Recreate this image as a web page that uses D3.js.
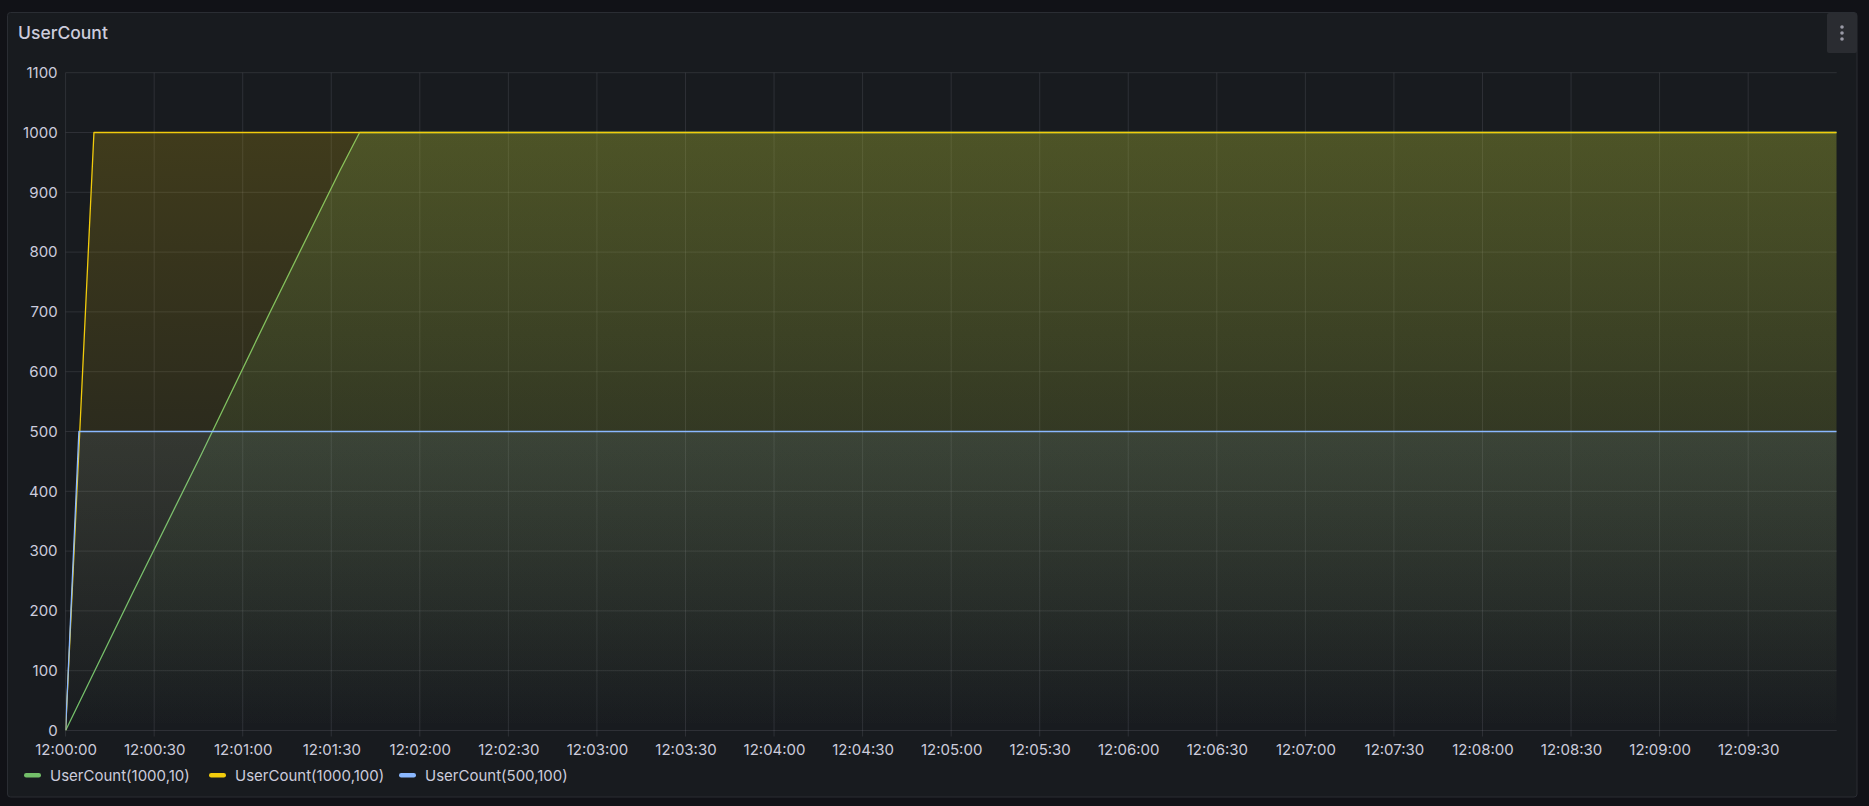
<!DOCTYPE html>
<html>
<head>
<meta charset="utf-8">
<script src="https://cdn.jsdelivr.net/npm/d3@7"></script>
<style>
  html, body { margin: 0; padding: 0; background: #111217; }
  svg { display: block; }
  text { font-family: Inter, "Noto Sans", sans-serif; }
</style>
</head>
<body>
<svg id="chart" width="1869" height="806"></svg>
<script>
// ---- data ----
const title = "UserCount";
const seriesNames = ["UserCount(1000,10)", "UserCount(1000,100)", "UserCount(500,100)"];
const seriesColors = ["#73BF69", "#F2CC0C", "#8AB8FF"];
// time in seconds after 12:00:00
const greenTimes  = [0, 23, 46, 69, 93, 99.6, 600];
const greenValues = [0, 233, 462, 697, 937, 1000, 1000];
const yellowTimes  = [0, 9.6, 600];
const yellowValues = [0, 1000, 1000];
const blueTimes  = [0, 4.5, 600];
const blueValues = [0, 500, 500];
const yTicks = [0, 100, 200, 300, 400, 500, 600, 700, 800, 900, 1000, 1100];
const xTickSeconds = [0, 30, 60, 90, 120, 150, 180, 210, 240, 270, 300, 330, 360, 390, 420, 450, 480, 510, 540, 570];
const xTickLabels = ["12:00:00","12:00:30","12:01:00","12:01:30","12:02:00","12:02:30","12:03:00","12:03:30","12:04:00","12:04:30","12:05:00","12:05:30","12:06:00","12:06:30","12:07:00","12:07:30","12:08:00","12:08:30","12:09:00","12:09:30"];

const series = [
  { name: seriesNames[0], color: seriesColors[0], t: greenTimes, v: greenValues },
  { name: seriesNames[1], color: seriesColors[1], t: yellowTimes, v: yellowValues },
  { name: seriesNames[2], color: seriesColors[2], t: blueTimes, v: blueValues }
];

// ---- layout ----
const svg = d3.select("#chart");
const plot = { left: 65.6, right: 1836.7, top: 72.7, bottom: 730.5 };
const x = d3.scaleLinear().domain([0, 600]).range([plot.left, plot.right]);
const y = d3.scaleLinear().domain([0, 1100]).range([plot.bottom, plot.top]);

// panel
svg.append("rect").attr("x", 7.5).attr("y", 12.5).attr("width", 1849.5).attr("height", 784.5)
  .attr("rx", 3).attr("fill", "#181b1f").attr("stroke", "#2a2d33").attr("stroke-width", 1);

svg.append("text").attr("x", 18).attr("y", 39).attr("fill", "#ccccdc")
  .attr("font-size", 17.5).attr("font-weight", 500).text(title);

// menu button
svg.append("rect").attr("x", 1827).attr("y", 13).attr("width", 30).attr("height", 40).attr("rx", 2)
  .attr("fill", "#2a2c31");
[27, 33, 39].forEach(cy => svg.append("circle").attr("cx", 1842).attr("cy", cy).attr("r", 1.8).attr("fill", "#9a9aa6"));

// grid
const grid = svg.append("g");
grid.selectAll("line.h").data(yTicks).join("line")
  .attr("x1", plot.left).attr("x2", plot.right)
  .attr("y1", d => y(d)).attr("y2", d => y(d))
  .attr("stroke", "rgba(204,204,220,0.12)").attr("stroke-width", 1);
grid.selectAll("line.v").data(xTickSeconds).join("line")
  .attr("x1", d => x(d)).attr("x2", d => x(d))
  .attr("y1", plot.top).attr("y2", plot.bottom + 6)
  .attr("stroke", "rgba(204,204,220,0.12)").attr("stroke-width", 1);

// axes labels via d3 axes
const yAxis = d3.axisLeft(y).tickValues(yTicks).tickSize(0).tickPadding(8).tickFormat(d3.format("d"));
const gy = svg.append("g").attr("transform", `translate(${plot.left},0)`).call(yAxis);
gy.select(".domain").remove();
gy.selectAll("text").attr("fill", "#ccccdc").attr("font-size", 15).attr("font-family", "Inter, sans-serif");

const xAxis = d3.axisBottom(x).tickValues(xTickSeconds).tickSize(0).tickPadding(14)
  .tickFormat((d, i) => xTickLabels[i]);
const gx = svg.append("g").attr("transform", `translate(0,${plot.bottom})`).call(xAxis);
gx.select(".domain").remove();
gx.selectAll("text").attr("fill", "#ccccdc").attr("font-size", 15).attr("font-family", "Inter, sans-serif");

// gradients & series
const defs = svg.append("defs");
const clip = defs.append("clipPath").attr("id", "plotclip");
clip.append("rect").attr("x", plot.left).attr("y", plot.top - 2)
  .attr("width", plot.right - plot.left).attr("height", plot.bottom - plot.top + 2);

series.forEach((s, i) => {
  const g = defs.append("linearGradient").attr("id", "grad" + i)
    .attr("gradientUnits", "userSpaceOnUse")
    .attr("x1", 0).attr("x2", 0).attr("y1", plot.top).attr("y2", plot.bottom);
  g.append("stop").attr("offset", 0).attr("stop-color", s.color).attr("stop-opacity", 0.2);
  g.append("stop").attr("offset", 1).attr("stop-color", s.color).attr("stop-opacity", 0);
});

const layer = svg.append("g").attr("clip-path", "url(#plotclip)");
series.forEach((s, i) => {
  const pts = s.t.map((t, j) => [t, s.v[j]]);
  const area = d3.area().x(d => x(d[0])).y0(y(0)).y1(d => y(d[1]));
  const line = d3.line().x(d => x(d[0])).y(d => y(d[1]));
  layer.append("path").attr("d", area(pts)).attr("fill", `url(#grad${i})`);
  layer.append("path").attr("d", line(pts)).attr("fill", "none")
    .attr("stroke", s.color).attr("stroke-width", 1.3).attr("stroke-linejoin", "round");
});

// legend
const legendX = [24, 209, 399];
const lg = svg.append("g");
series.forEach((s, i) => {
  const item = lg.append("g").attr("transform", `translate(${legendX[i]},775)`);
  item.append("rect").attr("x", 0).attr("y", -2).attr("width", 17).attr("height", 4.5).attr("rx", 2.2)
    .attr("fill", s.color);
  item.append("text").attr("x", 26).attr("y", 5.5).attr("fill", "#ccccdc").attr("font-size", 15).text(s.name);
});
</script>
</body>
</html>
